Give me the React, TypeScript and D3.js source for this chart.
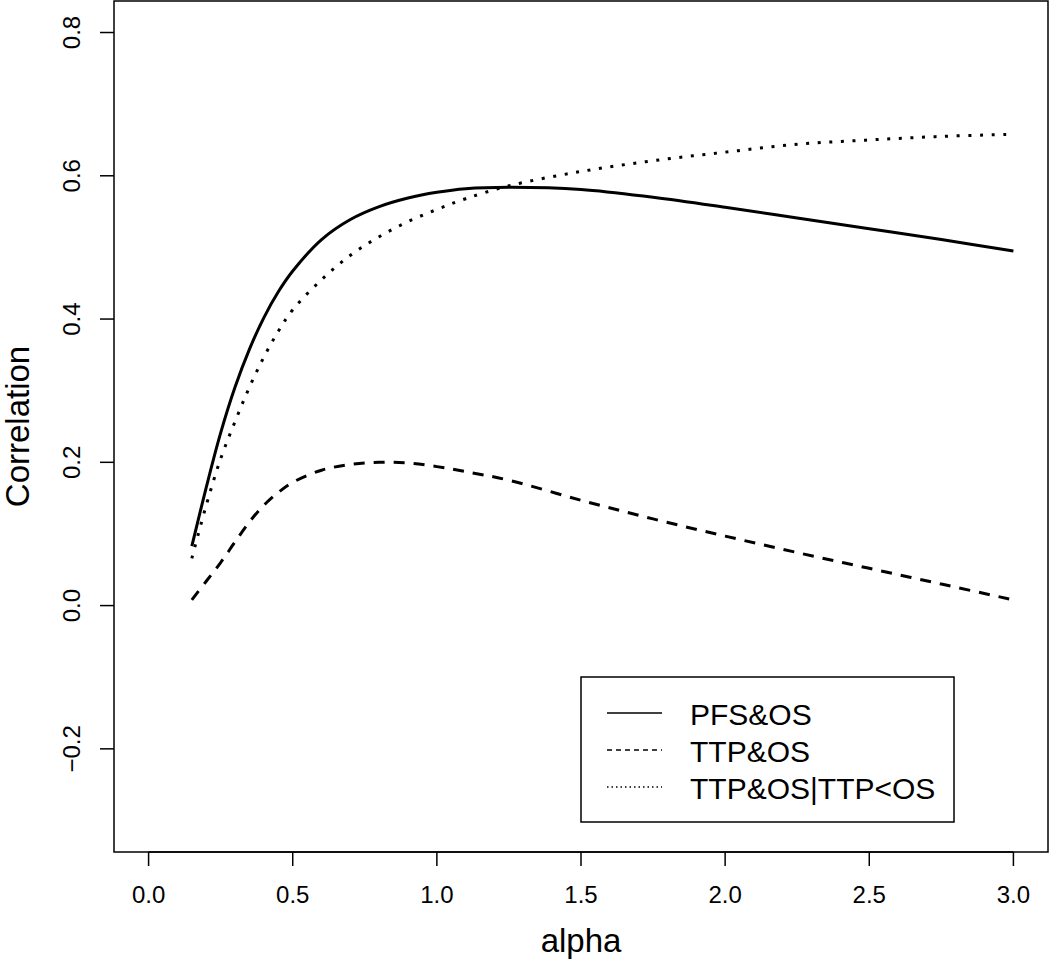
import React from "react";
import * as d3 from "d3";

const alpha = [0.15, 0.2, 0.25, 0.3, 0.35, 0.4, 0.45, 0.5, 0.6, 0.7, 0.8, 0.9, 1.0, 1.1, 1.25, 1.5, 1.75, 2.0, 2.25, 2.5, 2.75, 3.0];
const pfsOS = [0.083, 0.165, 0.241, 0.305, 0.358, 0.402, 0.438, 0.467, 0.511, 0.539, 0.557, 0.569, 0.577, 0.582, 0.584, 0.581, 0.57, 0.556, 0.541, 0.526, 0.511, 0.495];
const ttpOS = [0.008, 0.034, 0.06, 0.089, 0.117, 0.14, 0.158, 0.172, 0.189, 0.197, 0.2, 0.199, 0.194, 0.187, 0.175, 0.147, 0.121, 0.097, 0.074, 0.052, 0.03, 0.008];
const ttpOSCond = [0.066, 0.14, 0.205, 0.257, 0.305, 0.347, 0.383, 0.413, 0.455, 0.489, 0.515, 0.536, 0.553, 0.568, 0.586, 0.606, 0.621, 0.633, 0.644, 0.65, 0.655, 0.658];

const xTicks = [0, 0.5, 1, 1.5, 2, 2.5, 3];
const yTicks = [-0.2, 0, 0.2, 0.4, 0.6, 0.8];
const seriesNames = ["PFS&OS", "TTP&OS", "TTP&OS|TTP<OS"];

const W = 1050, H = 965;
const left = 114, right = 1048, top = 1, bottom = 852;
const font = "'Liberation Sans', Arial, sans-serif";

export default function App() {
  const x = d3.scaleLinear().domain([-0.12, 3.12]).range([left, right]);
  const y = d3.scaleLinear().domain([-0.344, 0.844]).range([bottom, top]);
  const line = (vals: number[]) =>
    d3.line<number>().x((_, i) => x(alpha[i])).y((v) => y(v)).curve(d3.curveCatmullRom.alpha(0.5))(vals) || "";

  const fmt = (v: number) => (v < 0 ? "\u2212" + Math.abs(v).toFixed(1) : v.toFixed(1));

  const styles = [
    { dash: undefined, w: 3 },
    { dash: "11 9", w: 3 },
    { dash: "3 8.6", w: 3 },
  ];
  const legStyles = [
    { dash: undefined },
    { dash: "5 4" },
    { dash: "1.5 3" },
  ];
  const series = [pfsOS, ttpOS, ttpOSCond];

  const legX = 581, legY = 677, legW = 373, legH = 145;
  const rowY = [713, 750, 787];

  return (
    <svg width={W} height={H} style={{ position: "absolute", left: 0, top: 0, background: "#fff" }}>
      <rect x={0} y={0} width={W} height={H} fill="#fff" />
      {series.map((s, i) => (
        <path key={i} d={line(s)} fill="none" stroke="#000" strokeWidth={styles[i].w}
          strokeDasharray={styles[i].dash} />
      ))}
      <rect x={left} y={top} width={right - left} height={bottom - top} fill="none" stroke="#000" strokeWidth={1.5} />
      <line x1={x(xTicks[0])} x2={x(xTicks[xTicks.length - 1])} y1={bottom} y2={bottom} stroke="#000" strokeWidth={1.5} />
      {xTicks.map((t) => (
        <g key={t}>
          <line x1={x(t)} x2={x(t)} y1={bottom} y2={bottom + 14} stroke="#000" strokeWidth={1.5} />
          <text x={x(t)} y={903} textAnchor="middle" fontFamily={font} fontSize={24}>{t.toFixed(1)}</text>
        </g>
      ))}
      {yTicks.map((t) => (
        <g key={t}>
          <line x1={left - 14} x2={left} y1={y(t)} y2={y(t)} stroke="#000" strokeWidth={1.5} />
          <text transform={`translate(80,${y(t)}) rotate(-90)`} textAnchor="middle" fontFamily={font} fontSize={24}>{fmt(t)}</text>
        </g>
      ))}
      <text x={(left + right) / 2} y={952} textAnchor="middle" fontFamily={font} fontSize={33}>alpha</text>
      <text transform={`translate(29,${(top + bottom) / 2}) rotate(-90)`} textAnchor="middle" fontFamily={font} fontSize={33}>Correlation</text>
      <rect x={legX} y={legY} width={legW} height={legH} fill="#fff" stroke="#000" strokeWidth={1.5} />
      {seriesNames.map((n, i) => (
        <g key={n}>
          <line x1={607} x2={662} y1={rowY[i]} y2={rowY[i]} stroke="#000" strokeWidth={1.4} strokeDasharray={legStyles[i].dash} />
          <text x={690} y={rowY[i] + 11.5} fontFamily={font} fontSize={30}>{n}</text>
        </g>
      ))}
    </svg>
  );
}
